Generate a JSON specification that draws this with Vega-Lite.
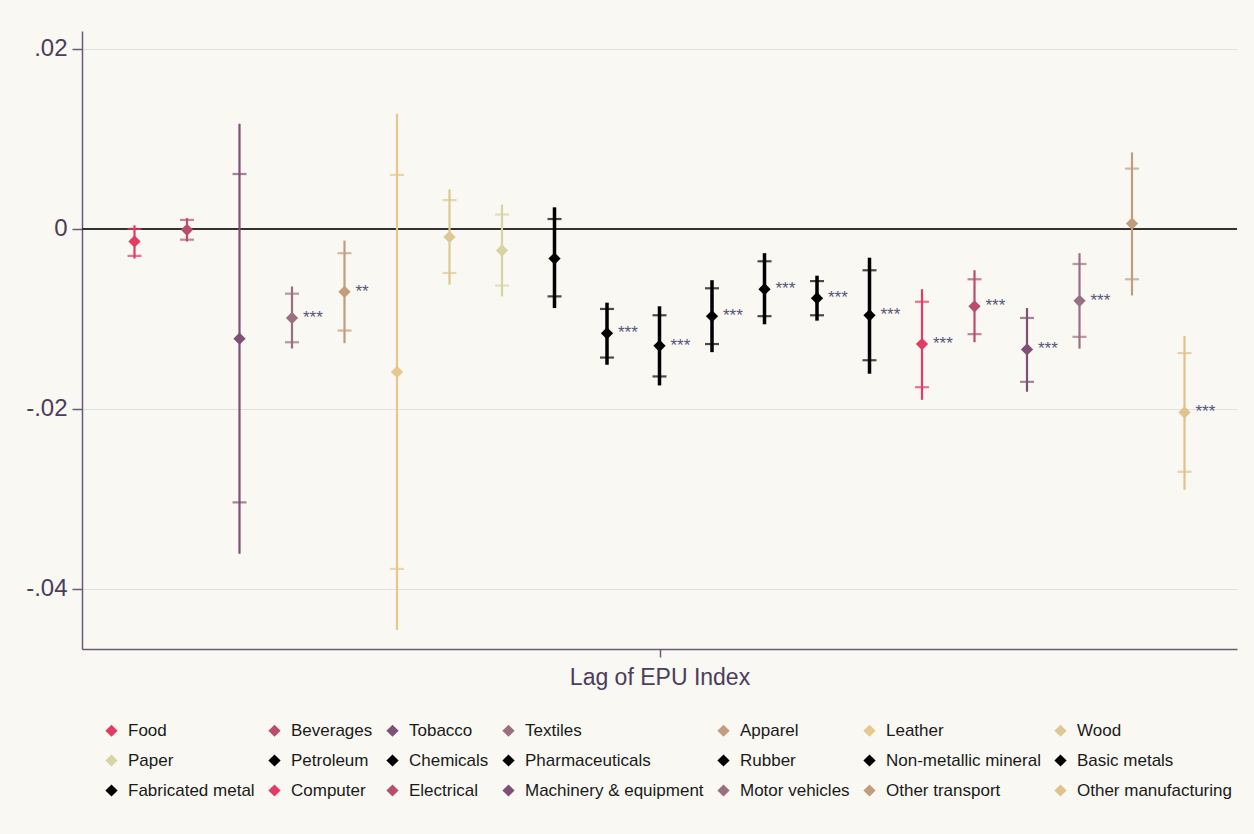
{
  "$schema": "https://vega.github.io/schema/vega-lite/v6.json",
  "width": 1155,
  "height": 618,
  "autosize": {"type": "none"},
  "padding": {"left": 82, "top": 31, "right": 17, "bottom": 185},
  "background": "#f9f8f2",
  "config": {
    "view": {"stroke": null},
    "font": "Liberation Sans",
    "axis": {"labelFont": "Liberation Sans", "titleFont": "Liberation Sans"},
    "legend": {
      "title": null, "orient": "none", "legendX": 21, "legendY": 691,
      "direction": "horizontal", "columns": 7,
      "symbolType": "diamond", "symbolSize": 150, "symbolStrokeWidth": 0, "symbolOpacity": 1,
      "labelFont": "Liberation Sans", "labelFontSize": 17, "labelColor": "#1a1a1a",
      "labelOffset": 8, "rowPadding": 12, "columnPadding": 11, "padding": 0,
      "labelLimit": 300
    }
  },
  "data": {
    "values": [
      {"industry": "Food", "idx": 1, "b": -0.0014, "lo95": -0.0033, "hi95": 0.0004, "lo90": -0.0030, "hi90": 0.0000, "sig": ""},
      {"industry": "Beverages", "idx": 2, "b": -0.0001, "lo95": -0.0014, "hi95": 0.0012, "lo90": -0.0012, "hi90": 0.0010, "sig": ""},
      {"industry": "Tobacco", "idx": 3, "b": -0.0122, "lo95": -0.0361, "hi95": 0.0117, "lo90": -0.0304, "hi90": 0.0061, "sig": ""},
      {"industry": "Textiles", "idx": 4, "b": -0.0099, "lo95": -0.0133, "hi95": -0.0064, "lo90": -0.0126, "hi90": -0.0072, "sig": "***"},
      {"industry": "Apparel", "idx": 5, "b": -0.0070, "lo95": -0.0127, "hi95": -0.0013, "lo90": -0.0113, "hi90": -0.0027, "sig": "**"},
      {"industry": "Leather", "idx": 6, "b": -0.0159, "lo95": -0.0446, "hi95": 0.0128, "lo90": -0.0378, "hi90": 0.0060, "sig": ""},
      {"industry": "Wood", "idx": 7, "b": -0.0009, "lo95": -0.0062, "hi95": 0.0044, "lo90": -0.0049, "hi90": 0.0032, "sig": ""},
      {"industry": "Paper", "idx": 8, "b": -0.0024, "lo95": -0.0075, "hi95": 0.0027, "lo90": -0.0063, "hi90": 0.0016, "sig": ""},
      {"industry": "Petroleum", "idx": 9, "b": -0.0033, "lo95": -0.0088, "hi95": 0.0024, "lo90": -0.0075, "hi90": 0.0011, "sig": ""},
      {"industry": "Chemicals", "idx": 10, "b": -0.0116, "lo95": -0.0151, "hi95": -0.0082, "lo90": -0.0143, "hi90": -0.0089, "sig": "***"},
      {"industry": "Pharmaceuticals", "idx": 11, "b": -0.0130, "lo95": -0.0174, "hi95": -0.0086, "lo90": -0.0164, "hi90": -0.0096, "sig": "***"},
      {"industry": "Rubber", "idx": 12, "b": -0.0097, "lo95": -0.0137, "hi95": -0.0057, "lo90": -0.0128, "hi90": -0.0066, "sig": "***"},
      {"industry": "Non-metallic mineral", "idx": 13, "b": -0.0067, "lo95": -0.0106, "hi95": -0.0027, "lo90": -0.0097, "hi90": -0.0036, "sig": "***"},
      {"industry": "Basic metals", "idx": 14, "b": -0.0077, "lo95": -0.0102, "hi95": -0.0052, "lo90": -0.0096, "hi90": -0.0058, "sig": "***"},
      {"industry": "Fabricated metal", "idx": 15, "b": -0.0096, "lo95": -0.0161, "hi95": -0.0032, "lo90": -0.0146, "hi90": -0.0046, "sig": "***"},
      {"industry": "Computer", "idx": 16, "b": -0.0128, "lo95": -0.0190, "hi95": -0.0067, "lo90": -0.0176, "hi90": -0.0081, "sig": "***"},
      {"industry": "Electrical", "idx": 17, "b": -0.0086, "lo95": -0.0126, "hi95": -0.0046, "lo90": -0.0117, "hi90": -0.0056, "sig": "***"},
      {"industry": "Machinery & equipment", "idx": 18, "b": -0.0134, "lo95": -0.0181, "hi95": -0.0088, "lo90": -0.0170, "hi90": -0.0099, "sig": "***"},
      {"industry": "Motor vehicles", "idx": 19, "b": -0.0080, "lo95": -0.0133, "hi95": -0.0027, "lo90": -0.0120, "hi90": -0.0039, "sig": "***"},
      {"industry": "Other transport", "idx": 20, "b": 0.0006, "lo95": -0.0074, "hi95": 0.0085, "lo90": -0.0056, "hi90": 0.0067, "sig": ""},
      {"industry": "Other manufacturing", "idx": 21, "b": -0.0204, "lo95": -0.0290, "hi95": -0.0119, "lo90": -0.0270, "hi90": -0.0138, "sig": "***"}
    ]
  },
  "encoding": {
    "x": {
      "field": "idx", "type": "quantitative",
      "scale": {"domain": [0, 22], "nice": false, "zero": false},
      "axis": {
        "values": [11], "labels": false, "grid": false,
        "tickSize": 8, "tickColor": "#6b5a78", "tickWidth": 1.5,
        "domainColor": "#6b5a78", "domainWidth": 1.5,
        "title": "Lag of EPU Index", "titleFontSize": 23, "titleFontWeight": "normal",
        "titleColor": "#4b3d5b", "titlePadding": 9
      }
    }
  },
  "layer": [
    {
      "mark": {"type": "rule", "color": "#333333", "strokeWidth": 2},
      "encoding": {
        "x": null,
        "y": {
          "datum": 0, "type": "quantitative",
          "scale": {"domain": [-0.0467, 0.022], "nice": false, "zero": false},
          "axis": {
            "values": [0.02, 0, -0.02, -0.04],
            "labelExpr": "datum.value > 0.01 ? '.02' : (datum.value > -0.01 ? '0' : (datum.value > -0.03 ? '-.02' : '-.04'))",
            "labelFontSize": 24, "labelColor": "#4b3d5b", "labelPadding": 5,
            "tickSize": 10, "tickColor": "#6b5a78", "tickWidth": 1.5,
            "domainColor": "#6b5a78", "domainWidth": 1.5,
            "grid": true, "gridColor": "#e3e0d7", "gridWidth": 1,
            "title": null
          }
        }
      }
    },
    {
      "mark": {"type": "rule"},
      "encoding": {
        "y": {"field": "lo95", "type": "quantitative"},
        "y2": {"field": "hi95"},
        "color": {"field": "industry", "type": "nominal", "scale": {"domain": ["Food","Beverages","Tobacco","Textiles","Apparel","Leather","Wood","Paper","Petroleum","Chemicals","Pharmaceuticals","Rubber","Non-metallic mineral","Basic metals","Fabricated metal","Computer","Electrical","Machinery & equipment","Motor vehicles","Other transport","Other manufacturing"], "range": ["#e23c64","#b94d70","#7e5077","#9b6f82","#c29d7c","#e6c78c","#dbc893","#d7d3a3","#000000","#000000","#000000","#000000","#000000","#000000","#000000","#e23c64","#b94d70","#7e5077","#9b6f82","#c29d7c","#dfc38a"]}},
        "strokeWidth": {"condition": {"test": "indexof(['Petroleum','Chemicals','Pharmaceuticals','Rubber','Non-metallic mineral','Basic metals','Fabricated metal'], datum.industry) >= 0", "value": 3.5}, "value": 2.2}
      }
    },
    {
      "mark": {"type": "tick", "orient": "horizontal", "thickness": 2.2},
      "encoding": {
        "y": {"field": "lo90", "type": "quantitative"},
        "size": {"value": 14},
        "color": {"field": "industry", "type": "nominal"}
      }
    },
    {
      "mark": {"type": "tick", "orient": "horizontal", "thickness": 2.2},
      "encoding": {
        "y": {"field": "hi90", "type": "quantitative"},
        "size": {"value": 14},
        "color": {"field": "industry", "type": "nominal"}
      }
    },
    {
      "mark": {"type": "point", "shape": "diamond", "filled": true, "opacity": 1, "size": 150},
      "encoding": {
        "y": {"field": "b", "type": "quantitative"},
        "color": {"field": "industry", "type": "nominal", "legend": {"symbolSize": 150, "symbolType": "diamond"}}
      }
    },
    {
      "mark": {"type": "text", "align": "left", "baseline": "middle", "dx": 11, "dy": 0, "fontSize": 17, "color": "#55557a"},
      "encoding": {
        "y": {"field": "b", "type": "quantitative"},
        "text": {"field": "sig"}
      }
    }
  ]
}
